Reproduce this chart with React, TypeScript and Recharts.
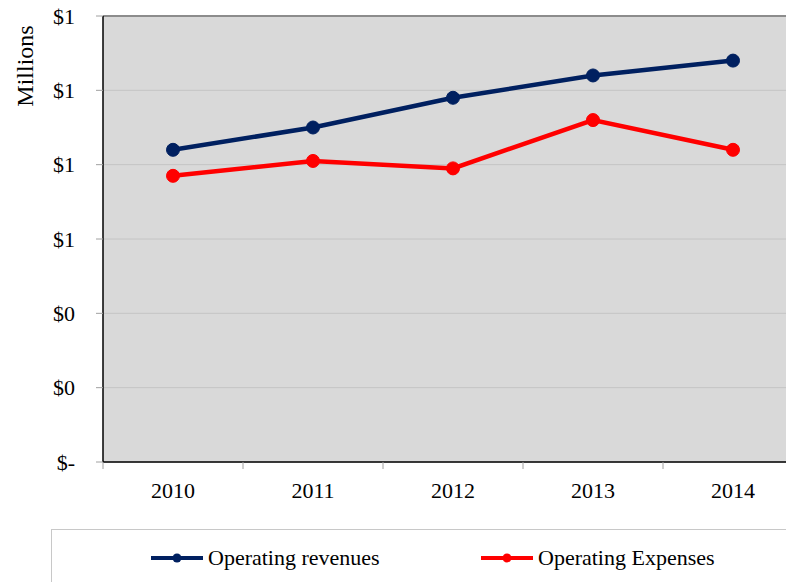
import React from 'react';
import { LineChart, Line, XAxis, YAxis, CartesianGrid, ReferenceLine } from 'recharts';

const years = ['2010', '2011', '2012', '2013', '2014'];
const operatingRevenues = [0.84, 0.9, 0.98, 1.04, 1.08];
const operatingExpenses = [0.77, 0.81, 0.79, 0.92, 0.84];
const yTicks = [0, 0.2, 0.4, 0.6, 0.8, 1.0, 1.2];

const seriesNames = ['Operating revenues', 'Operating Expenses'];
const seriesColors = ['#002060', '#ff0000'];

const FONT = '"Liberation Serif", "Times New Roman", serif';

const data = years.map((year, i) => ({
  year,
  revenues: operatingRevenues[i],
  expenses: operatingExpenses[i],
}));

const formatMoney = (v: number) => (v === 0 ? '$-' : `$${Math.round(v)}`);

// band width of one category, used for the tick marks between years
const BAND = 140;

function YearTick(props: any) {
  const { x, y, payload } = props;
  return (
    <g>
      <line x1={x - BAND / 2} y1={y} x2={x - BAND / 2} y2={y + 7} stroke="#a0a0a0" />
      <text x={x} y={y + 36} textAnchor="middle" fontSize={22} fontFamily={FONT} fill="#000">
        {payload.value}
      </text>
    </g>
  );
}

function MillionsLabel() {
  return (
    <text
      x={0}
      y={0}
      transform="translate(33, 66) rotate(-90)"
      textAnchor="middle"
      fontSize={24}
      fontFamily={FONT}
      fill="#000"
    >
      Millions
    </text>
  );
}

function LegendIcon({ color }: { color: string }) {
  return (
    <svg width={54} height={14} style={{ display: 'block' }}>
      <line x1={1} y1={7} x2={53} y2={7} stroke={color} strokeWidth={4} />
      <circle cx={27} cy={7} r={4.5} fill={color} />
    </svg>
  );
}

export default function App() {
  return (
    <div
      style={{
        position: 'absolute',
        left: 0,
        top: 0,
        width: 786,
        height: 582,
        overflow: 'hidden',
        background: '#fff',
        fontFamily: FONT,
      }}
    >
      <LineChart width={820} height={582} data={data} margin={{ top: 16, right: 17, left: 0, bottom: 90 }}>
        <CartesianGrid vertical={false} fill="#d9d9d9" stroke="#c4c4c4" />
        <ReferenceLine y={1.2} stroke="#8c8c8c" strokeWidth={2} />
        <XAxis
          dataKey="year"
          height={30}
          padding={{ left: 70, right: 70 }}
          tickLine={false}
          tickSize={0}
          tickMargin={0}
          axisLine={{ stroke: '#000', strokeWidth: 1.5 }}
          tick={<YearTick />}
          interval={0}
        />
        <YAxis
          width={103}
          domain={[0, 1.2]}
          ticks={yTicks}
          tickFormatter={formatMoney}
          tickSize={7}
          tickMargin={21}
          tickLine={{ stroke: '#a0a0a0' }}
          axisLine={{ stroke: '#000', strokeWidth: 1.5 }}
          tick={{ fill: '#000', fontSize: 22, fontFamily: FONT }}
          label={<MillionsLabel />}
        />
        <Line
          type="linear"
          dataKey="revenues"
          name={seriesNames[0]}
          stroke={seriesColors[0]}
          strokeWidth={4.5}
          dot={{ r: 6.5, fill: seriesColors[0], stroke: seriesColors[0], strokeWidth: 1 }}
          isAnimationActive={false}
        />
        <Line
          type="linear"
          dataKey="expenses"
          name={seriesNames[1]}
          stroke={seriesColors[1]}
          strokeWidth={4.5}
          dot={{ r: 6.5, fill: seriesColors[1], stroke: seriesColors[1], strokeWidth: 1 }}
          isAnimationActive={false}
        />
      </LineChart>
      <div
        style={{
          position: 'absolute',
          left: 51,
          top: 529,
          width: 800,
          height: 80,
          border: '1px solid #c8c8c8',
          background: '#fff',
        }}
      >
        {seriesNames.map((name, i) => (
          <div
            key={name}
            style={{
              position: 'absolute',
              left: i === 0 ? 98 : 428,
              top: 14,
              display: 'flex',
              alignItems: 'center',
              fontSize: 22,
              lineHeight: '28px',
              whiteSpace: 'nowrap',
            }}
          >
            <LegendIcon color={seriesColors[i]} />
            <span style={{ marginLeft: 4 }}>{name}</span>
          </div>
        ))}
      </div>
    </div>
  );
}
